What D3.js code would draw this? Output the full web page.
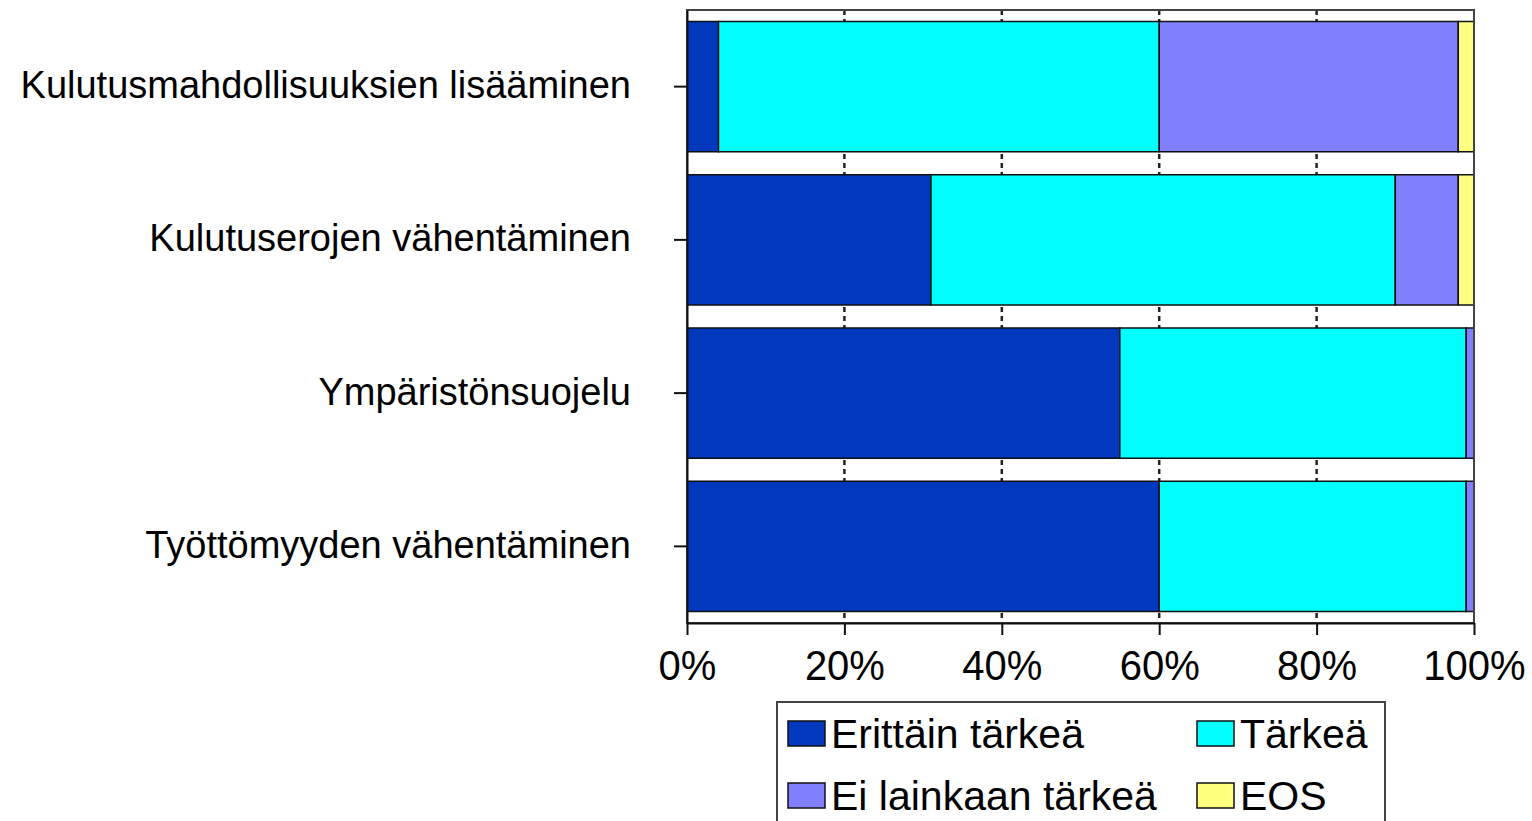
<!DOCTYPE html>
<meta charset="utf-8">
<script src="https://d3js.org/d3.v7.min.js"></script>
<style>
  body { margin: 0; background: #fff; }
  text { font-family: "Liberation Sans", Arial, sans-serif; fill: #000; }
</style>
<div id="chart"></div>
<script>
// categories top to bottom
const categories = ["Kulutusmahdollisuuksien lisääminen", "Kulutuserojen vähentäminen", "Ympäristönsuojelu", "Työttömyyden vähentäminen"];
const seriesNames = ["Erittäin tärkeä", "Tärkeä", "Ei lainkaan tärkeä", "EOS"];
const erittain = [4, 31, 55, 60];
const tarkea = [56, 59, 44, 39];
const eiLainkaan = [38, 8, 1, 1];
const eos = [2, 2, 0, 0];
const xTicks = [0, 20, 40, 60, 80, 100];

const colors = ["#0039bd", "#00ffff", "#8080ff", "#ffff80"];

const W = 1532, H = 821;
const plot = {left: 687, right: 1474, top: 10, bottom: 623};

const svg = d3.select("#chart").append("svg")
  .attr("width", W).attr("height", H);

const rows = categories.map((c, i) => ({
  cat: c, "Erittäin tärkeä": erittain[i], "Tärkeä": tarkea[i],
  "Ei lainkaan tärkeä": eiLainkaan[i], "EOS": eos[i]
}));
const stacked = d3.stack().keys(seriesNames)(rows);

const x = d3.scaleLinear().domain([0, 100]).range([plot.left, plot.right]);
const y = d3.scaleBand().domain(categories).range([plot.top, plot.bottom]).paddingInner(0.15).paddingOuter(0.075);
const color = d3.scaleOrdinal().domain(seriesNames).range(colors);

// dashed gridlines
svg.append("g")
  .selectAll("line")
  .data(xTicks.slice(1, -1))
  .join("line")
    .attr("x1", d => x(d)).attr("x2", d => x(d))
    .attr("y1", plot.top).attr("y2", plot.bottom)
    .attr("stroke", "#222").attr("stroke-width", 2.5)
    .attr("stroke-dasharray", "5,4");

// bars
svg.append("g")
  .selectAll("g")
  .data(stacked)
  .join("g")
    .attr("fill", d => color(d.key))
  .selectAll("rect")
  .data(d => d.filter(p => p[1] - p[0] > 0))
  .join("rect")
    .attr("x", d => x(d[0]))
    .attr("y", d => y(d.data.cat))
    .attr("width", d => x(d[1]) - x(d[0]))
    .attr("height", y.bandwidth())
    .attr("stroke", "#111")
    .attr("stroke-width", 1.5);

// plot frame
svg.append("rect")
  .attr("x", plot.left).attr("y", plot.top)
  .attr("width", plot.right - plot.left).attr("height", plot.bottom - plot.top)
  .attr("fill", "none").attr("stroke", "#444").attr("stroke-width", 2);

// x axis
const xAxis = svg.append("g")
  .attr("transform", `translate(0,${plot.bottom})`)
  .call(d3.axisBottom(x).tickValues(xTicks).tickSize(12).tickSizeOuter(0).tickPadding(14).tickFormat(d => d + "%"));
xAxis.select(".domain").attr("stroke", "#111").attr("stroke-width", 2);
xAxis.selectAll(".tick line").attr("stroke", "#111").attr("stroke-width", 2);
xAxis.selectAll("text").style("font-size", "40px").attr("transform", "scale(1,1.05)");

// y axis
const yAxis = svg.append("g")
  .attr("transform", `translate(${plot.left},0)`)
  .call(d3.axisLeft(y).tickSize(13).tickSizeOuter(0).tickPadding(43));
yAxis.select(".domain").attr("stroke", "#111").attr("stroke-width", 2);
yAxis.selectAll(".tick line").attr("stroke", "#111").attr("stroke-width", 2);
yAxis.selectAll("text").style("font-size", "38px").attr("dy", "0.3em");

// legend
const legend = svg.append("g");
legend.append("rect")
  .attr("x", 777).attr("y", 702).attr("width", 608).attr("height", 140)
  .attr("fill", "#fff").attr("stroke", "#444").attr("stroke-width", 2);
const legPos = [[788, 721], [1197, 721], [788, 783], [1197, 783]];
const item = legend.selectAll("g.item")
  .data(seriesNames)
  .join("g").attr("class", "item")
  .attr("transform", (d, i) => `translate(${legPos[i][0]},${legPos[i][1]})`);
item.append("rect")
  .attr("width", 37).attr("height", 25)
  .attr("fill", d => color(d)).attr("stroke", "#111").attr("stroke-width", 1.5);
item.append("text")
  .attr("x", 43).attr("y", 27)
  .style("font-size", "41px")
  .text(d => d);
</script>
